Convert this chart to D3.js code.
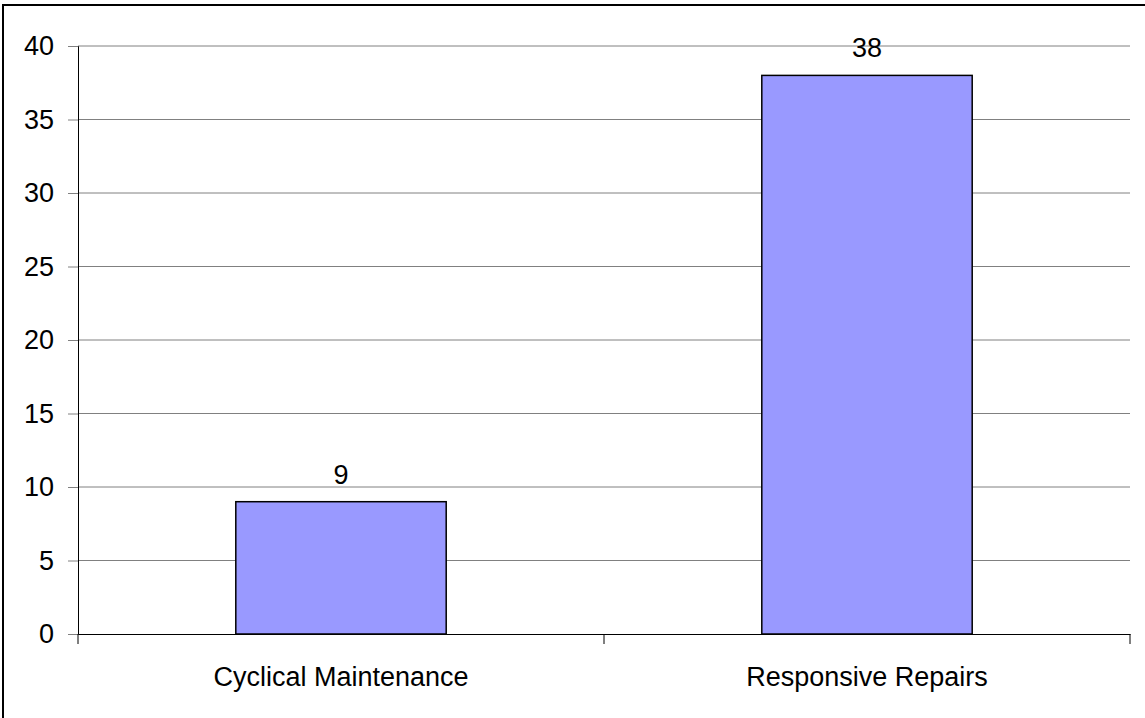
<!DOCTYPE html>
<html>
<head>
<meta charset="utf-8">
<script src="https://cdn.jsdelivr.net/npm/d3@7"></script>
<style>
  html, body { margin: 0; padding: 0; background: #fff; }
  svg { display: block; font-family: "Liberation Sans", Arial, sans-serif; }
</style>
</head>
<body>
<svg width="1145" height="718"></svg>
<script>
// data
var categories = ["Cyclical Maintenance", "Responsive Repairs"];
var values = [9, 38];
var yTicks = [0, 5, 10, 15, 20, 25, 30, 35, 40];

var svg = d3.select("svg");

// plot area
var plotLeft = 78, plotRight = 1130, plotTop = 46, plotBottom = 634;
var fontSize = "27px";

// outer frame (left/top edges visible, rest runs off the picture)
svg.append("rect")
    .attr("x", 3)
    .attr("y", 5)
    .attr("width", 1160)
    .attr("height", 730)
    .attr("fill", "none")
    .attr("stroke", "#000")
    .attr("stroke-width", 2);

var x = d3.scaleBand().domain(categories).range([plotLeft, plotRight]);
var y = d3.scaleLinear().domain([0, 40]).range([plotBottom, plotTop]);

// gridlines
svg.append("g")
    .selectAll("line")
    .data(yTicks.filter(function(d) { return d > 0; }))
    .enter().append("line")
    .attr("x1", plotLeft)
    .attr("x2", plotRight)
    .attr("y1", function(d) { return y(d); })
    .attr("y2", function(d) { return y(d); })
    .attr("stroke", "#808080")
    .attr("stroke-width", 1);

// y axis
var yAxis = svg.append("g")
    .attr("transform", "translate(" + plotLeft + ",0)")
    .call(d3.axisLeft(y).tickValues(yTicks).tickSize(10).tickPadding(14));
yAxis.select(".domain").attr("stroke", "#000");
yAxis.selectAll(".tick line").attr("stroke", "#808080");
yAxis.selectAll(".tick text")
    .attr("font-size", fontSize)
    .attr("font-family", "Liberation Sans, Arial, sans-serif")
    .attr("fill", "#000");

// bars
var barW = x.bandwidth() * 0.4;
svg.append("g")
    .selectAll("rect")
    .data(values)
    .enter().append("rect")
    .attr("x", function(d, i) { return x(categories[i]) + (x.bandwidth() - barW) / 2; })
    .attr("y", function(d) { return y(d); })
    .attr("width", barW)
    .attr("height", function(d) { return y(0) - y(d); })
    .attr("fill", "#9999ff")
    .attr("stroke", "#000")
    .attr("stroke-width", 1.5);

// value labels
svg.append("g")
    .selectAll("text")
    .data(values)
    .enter().append("text")
    .attr("x", function(d, i) { return x(categories[i]) + x.bandwidth() / 2; })
    .attr("y", function(d) { return y(d) - 18; })
    .attr("text-anchor", "middle")
    .attr("font-size", fontSize)
    .text(function(d) { return d; });

// x axis
var xAxis = svg.append("g")
    .attr("transform", "translate(0," + plotBottom + ")")
    .call(d3.axisBottom(x).tickSize(0).tickPadding(0));
xAxis.select(".domain").attr("stroke", "#000");
xAxis.selectAll(".tick text")
    .attr("dy", null)
    .attr("y", 52)
    .attr("font-size", fontSize)
    .attr("font-family", "Liberation Sans, Arial, sans-serif")
    .attr("fill", "#000");

// category separator ticks
svg.append("g")
    .selectAll("line")
    .data([plotLeft, plotLeft + x.step(), plotRight])
    .enter().append("line")
    .attr("x1", function(d) { return d; })
    .attr("x2", function(d) { return d; })
    .attr("y1", plotBottom)
    .attr("y2", plotBottom + 10)
    .attr("stroke", "#000")
    .attr("stroke-width", 1);
</script>
</body>
</html>
